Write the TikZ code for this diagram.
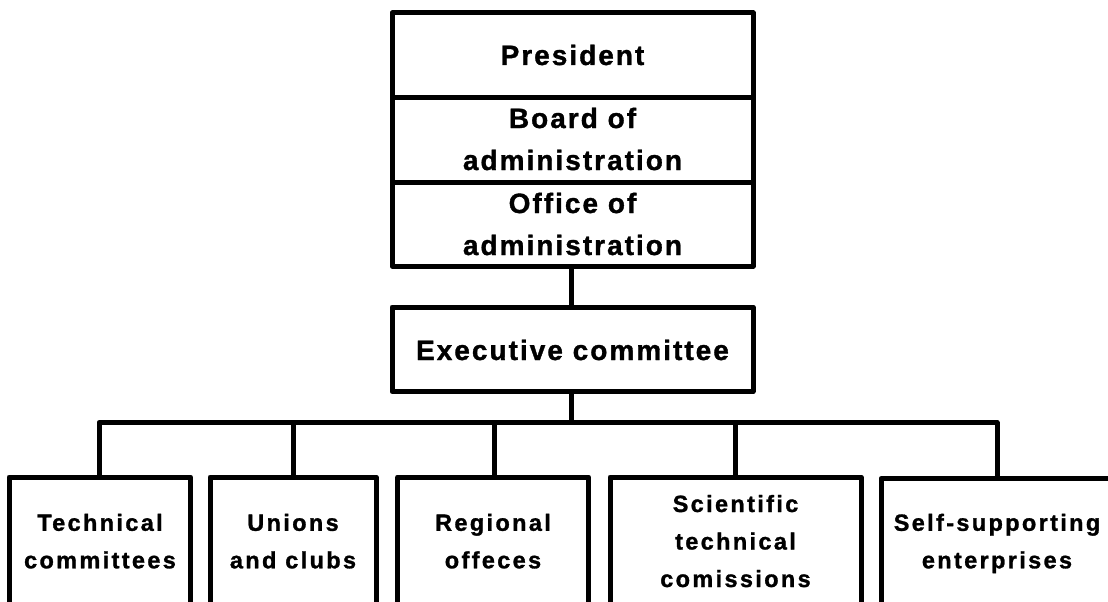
\documentclass[tikz,border=0pt]{standalone}
\usepackage{fontspec}
\setmainfont{Liberation Sans}
\newfontfamily\topfont{Liberation Sans Bold}[LetterSpace=7.2,FakeBold=1.2]
\newfontfamily\botfont{Liberation Sans Bold}[LetterSpace=10,FakeBold=1.2]
\begin{document}
\begin{tikzpicture}[x=1pt,y=-1pt,line join=round,
  box/.style={draw=black,line width=5pt,inner sep=0pt,outer sep=0pt},
  link/.style={draw=black,line width=5pt},
  toptext/.style={font={\topfont\fontsize{28}{42}\selectfont},align=center,inner sep=0pt,anchor=base},
  bottext/.style={font={\botfont\fontsize{23.5}{37.5}\selectfont},align=center,inner sep=0pt,anchor=base}]
\useasboundingbox (0,0) rectangle (1108,602);
\clip (0,0) rectangle (1108,602);
% top stack
\node[box,minimum width=361pt,minimum height=84pt] (pres) at (572.5,55) {};
\node[box,minimum width=361pt,minimum height=85.5pt] (board) at (572.5,139.75) {};
\node[box,minimum width=361pt,minimum height=83.5pt] (office) at (572.5,224.25) {};
\node[box,minimum width=361pt,minimum height=84.5pt] (exec) at (572.5,349.25) {};
\node[toptext] (presl) at (572.5,65) {President};
\node[toptext] (boardl) at (572.5,170) {Board of\\administration};
\node[toptext] (officel) at (572.5,255) {Office of\\administration};
\node[toptext] (execl) at (572.5,360) {Executive committee};
% bottom boxes
\node[box,anchor=north,minimum width=181.5pt,minimum height=200pt] (t1) at (99.75,477) {};
\node[box,anchor=north,minimum width=166pt,minimum height=200pt] (t2) at (293,477) {};
\node[box,anchor=north,minimum width=190.8pt,minimum height=200pt] (t3) at (493.1,477) {};
\node[box,anchor=north,minimum width=251pt,minimum height=200pt] (t4) at (735.5,477) {};
\node[box,anchor=north,minimum width=232pt,minimum height=200pt] (t5) at (997,478.5) {};
\node[bottext] (l1) at (100,568.3) {Technical\\committees};
\node[bottext] (l2) at (293,568.3) {Unions\\and clubs};
\node[bottext] (l3) at (493,568.3) {Regional\\offeces};
\node[bottext] (l4) at (735.5,587) {Scientific\\technical\\comissions};
\node[bottext] (l5) at (997,568.3) {Self-supporting\\enterprises};
% connectors
\coordinate (b1) at (99,422.5);
\coordinate (b2) at (293.5,422.5);
\coordinate (b3) at (494,422.5);
\coordinate (b4) at (735,422.5);
\coordinate (b5) at (997,422.5);
\coordinate (bx) at (571,422.5);
\draw[link] (571,0 |- office.south) -- (571,0 |- exec.north);
\draw[link] (571,0 |- exec.south) -- (bx);
\draw[link] (b1 |- t1.north) -- (b1) -- (b5) -- (b5 |- t5.north);
\draw[link] (b2) -- (b2 |- t2.north);
\draw[link] (b3) -- (b3 |- t3.north);
\draw[link] (b4) -- (b4 |- t4.north);
\end{tikzpicture}
\end{document}
